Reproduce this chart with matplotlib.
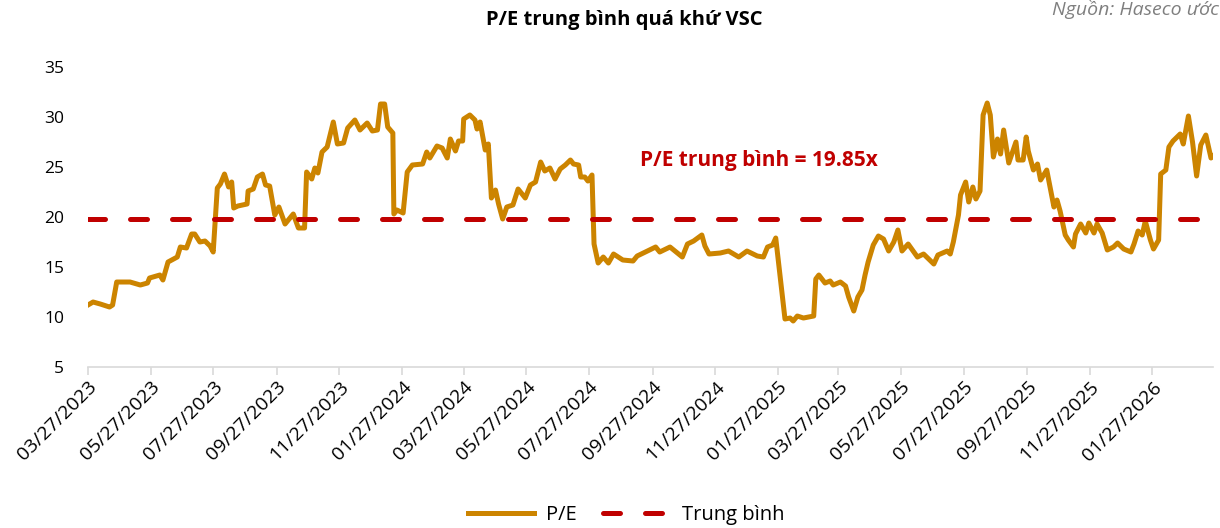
import numpy as np
import pandas as pd
import matplotlib
matplotlib.use('Agg')
import matplotlib.pyplot as plt
import matplotlib.dates as mdates

plt.rcParams['font.family'] = ['Open Sans', 'DejaVu Sans']

start_date = '2023-03-27'
# days after start_date
day_offset = [0, 5, 12, 21, 24, 28, 41, 51, 58, 60, 70, 73, 78, 87, 90, 96, 101, 104, 109, 114,
              119, 122, 126, 129, 133, 137, 140, 142, 146, 155, 156, 161, 165, 170, 173, 177, 182,
              186, 192, 200, 205, 211, 213, 218, 221, 224, 228, 233, 239, 243, 249, 253, 260, 265,
              272, 277, 282, 285, 289, 292, 297, 298, 301, 307, 311, 316, 326, 330, 333, 340, 345,
              350, 353, 358, 361, 365, 366, 372, 377, 379, 382, 387, 390, 393, 397, 400, 404, 408,
              414, 419, 426, 431, 436, 441, 445, 450, 455, 460, 465, 470, 473, 478, 480, 484, 487,
              491, 493, 497, 502, 507, 512, 521, 531, 535, 545, 553, 557, 567, 579, 584, 590, 598,
              601, 605, 616, 624, 634, 642, 652, 658, 662, 667, 670, 679, 684, 687, 691, 697, 707,
              709, 712, 718, 723, 726, 733, 738, 741, 746, 750, 754, 757, 760, 765, 770, 775, 780,
              785, 789, 793, 799, 808, 814, 824, 828, 837, 840, 843, 848, 850, 855, 858, 862, 865,
              869, 872, 876, 879, 882, 886, 889, 892, 897, 904, 906, 911, 914, 916, 921, 925, 928,
              934, 938, 941, 944, 947, 952, 955, 960, 962, 967, 972, 975, 980, 983, 988, 993, 999,
              1003, 1009, 1016, 1019, 1023, 1027, 1030, 1035, 1038, 1043, 1045, 1050, 1053, 1057,
              1064, 1067, 1072, 1076, 1080, 1084, 1089, 1094, 1096]
pe = [11.2, 11.5, 11.3, 11.0, 11.2, 13.5, 13.5, 13.2, 13.4, 13.9, 14.2, 13.7, 15.5, 16.0, 17.0, 16.9,
      18.3, 18.3, 17.5, 17.6, 17.1, 16.5, 22.9, 23.3, 24.3, 23.0, 23.5, 20.9, 21.1, 21.3, 22.6, 22.8,
      24.0, 24.3, 23.2, 23.1, 20.2, 21.0, 19.3, 20.3, 18.9, 18.9, 24.5, 23.8, 24.9, 24.4, 26.5, 27.0,
      29.5, 27.3, 27.4, 28.9, 29.7, 28.7, 29.4, 28.6, 28.7, 31.3, 31.3, 29.0, 28.4, 20.3, 20.7, 20.4,
      24.5, 25.2, 25.3, 26.5, 25.9, 27.1, 26.9, 25.9, 27.8, 26.6, 27.6, 27.6, 29.8, 30.2, 29.7, 28.8,
      29.5, 26.7, 27.3, 21.9, 22.7, 21.3, 19.8, 21.0, 21.2, 22.8, 21.9, 23.2, 23.5, 25.5, 24.6, 24.9,
      23.8, 24.8, 25.2, 25.7, 25.3, 25.2, 24.0, 24.0, 23.6, 24.2, 17.3, 15.4, 16.0, 15.4, 16.3, 15.7,
      15.6, 16.1, 16.6, 17.0, 16.5, 17.0, 16.0, 17.3, 17.6, 18.2, 17.1, 16.3, 16.4, 16.6, 16.0, 16.6,
      16.1, 16.0, 17.0, 17.2, 17.9, 9.8, 9.9, 9.6, 10.1, 9.9, 10.1, 13.8, 14.2, 13.4, 13.6, 13.2,
      13.5, 13.1, 12.0, 10.6, 12.0, 12.7, 14.2, 15.5, 17.2, 18.1, 17.8, 16.6, 17.5, 18.7, 16.6, 17.3,
      16.0, 16.3, 15.3, 16.2, 16.6, 16.3, 17.5, 20.2, 22.2, 23.5, 21.5, 23.0, 21.8, 22.6, 30.2, 31.4,
      30.2, 26.0, 27.8, 26.3, 28.7, 25.4, 27.5, 25.7, 25.7, 28.0, 26.6, 24.7, 25.3, 23.7, 24.7, 22.6,
      21.0, 21.7, 20.6, 18.2, 17.7, 17.0, 18.3, 19.3, 18.4, 19.4, 18.4, 19.3, 18.4, 16.7, 17.0, 17.4,
      16.8, 16.5, 17.3, 18.6, 18.2, 19.6, 17.7, 16.8, 17.7, 24.3, 24.7, 27.0, 27.6, 28.3, 27.3, 30.1,
      27.5, 24.1, 27.2, 28.2, 25.9, 26.1]
pe_mean = 19.85
tick_labels = ['03/27/2023', '05/27/2023', '07/27/2023', '09/27/2023', '11/27/2023',
               '01/27/2024', '03/27/2024', '05/27/2024', '07/27/2024', '09/27/2024',
               '11/27/2024', '01/27/2025', '03/27/2025', '05/27/2025', '07/27/2025',
               '09/27/2025', '11/27/2025', '01/27/2026']

dates = pd.to_datetime(start_date) + pd.to_timedelta(day_offset, unit='D')
ticks = pd.to_datetime(tick_labels, format='%m/%d/%Y')

fig = plt.figure(figsize=(12.2, 5.28), dpi=100)
ax = fig.add_axes([0.0721, 0.3049, 0.9222, 0.5682])

ax.plot(dates, pe, color='#CC8400', lw=3.6, solid_joinstyle='round', label='P/E')
ax.plot([dates[0], dates[-1]], [pe_mean, pe_mean], color='#C00000', lw=3.6,
        dashes=(3.4, 5.0), dash_capstyle='round', label='Trung bình')

ax.set_xlim(dates[0], dates[-1])
ax.set_ylim(5, 35)
ax.set_yticks(range(5, 36, 5))

ax.set_xticks(ticks)
ax.set_xticklabels(tick_labels, rotation=45, ha='right', rotation_mode='anchor')

for s in ['top', 'right', 'left']:
    ax.spines[s].set_visible(False)
ax.spines['bottom'].set_color('#D9D9D9')
ax.spines['bottom'].set_linewidth(1.2)
ax.tick_params(axis='x', length=6, color='#D9D9D9', width=1.2, labelsize=14, pad=2)
ax.tick_params(axis='y', length=0, labelsize=12.5, pad=17)

ax.text(0.491, 0.69, 'P/E trung bình = 19.85x', transform=ax.transAxes, color='#C00000',
        fontsize=15, fontweight='bold', ha='left', va='center')

fig.text(0.512, 0.962, 'P/E trung bình quá khứ VSC', ha='center', va='center',
         fontsize=14.5, fontweight='bold')
fig.text(0.999, 1.0, 'Nguồn: Haseco ước', ha='right', va='top', fontsize=14,
         style='italic', color='#7F7F7F')

fig.legend(loc='center', bbox_to_anchor=(0.513, 0.025), ncol=2, frameon=False,
           fontsize=14.5, handlelength=3.3, columnspacing=1.3, handletextpad=0.6)

fig.savefig('out.png', dpi=100)
